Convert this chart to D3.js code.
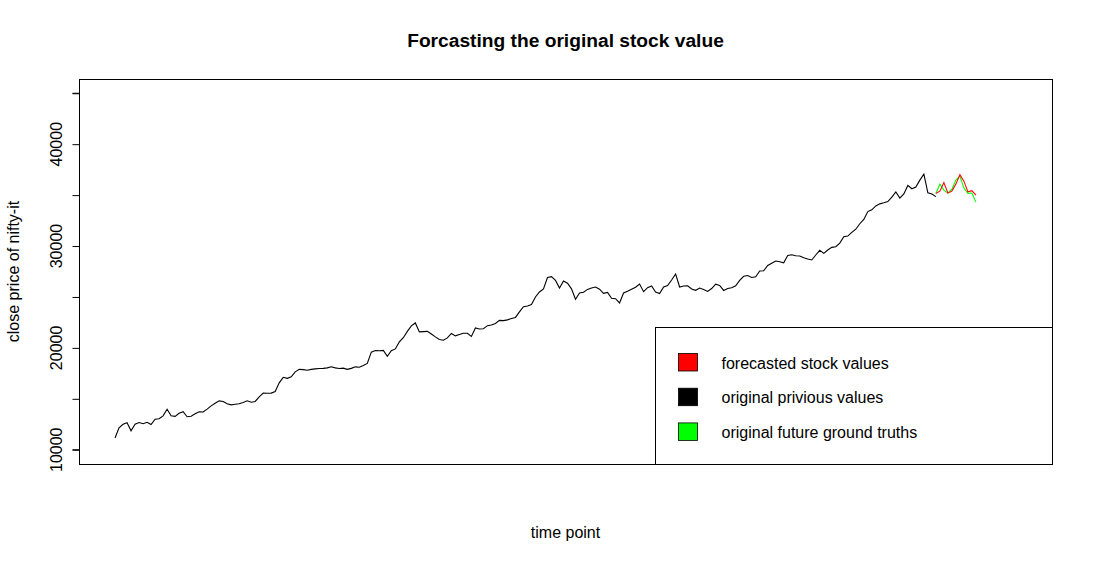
<!DOCTYPE html>
<html>
<head>
<meta charset="utf-8">
<script src="https://cdn.jsdelivr.net/npm/d3@7"></script>
<style>
  body { margin: 0; background: #fff; }
  svg { display: block; font-family: "Liberation Sans", Arial, sans-serif; }
</style>
</head>
<body>
<svg id="chart" width="1093" height="563"></svg>
<script>
"use strict";
// original previous close values (one per time point)
const closePrev = [
  11150,12160,12500,12650,11860,12500,12670,12550,12700,12470,
  12990,13040,13330,13970,13330,13280,13580,13730,13240,13280,
  13530,13730,13700,13990,14310,14560,14800,14740,14510,14410,
  14460,14510,14640,14800,14660,14740,15200,15560,15540,15560,
  15710,16570,17110,17010,17160,17650,17890,17870,17810,17890,
  17940,17970,17990,18040,18140,18040,17970,18010,17890,17990,
  18140,18100,18280,18480,19580,19740,19720,19750,19170,19730,
  19900,20590,21000,21620,22160,22450,21570,21600,21620,21370,
  21080,20830,20750,20980,21420,21180,21320,21440,21440,21130,
  21960,21860,21880,22180,22250,22400,22700,22680,22750,22890,
  22990,23530,24050,24120,24260,25000,25490,25780,26910,26990,
  26620,25880,26570,26350,25800,24780,25390,25460,25740,25880,
  25980,25760,25360,25440,24870,24830,24410,25390,25560,25760,
  25960,26270,25520,25910,26080,25490,25340,25980,26130,26670,
  27250,25980,26080,26100,25780,25650,25880,25740,25540,25830,
  26250,26130,25640,25830,25910,26100,26620,27030,27100,26910,
  26980,27550,27570,28090,28310,28530,28460,28350,29080,29140,
  29050,29020,28840,28730,28630,29120,29580,29280,29610,29870,
  29930,30290,30910,30980,31340,31650,32190,32610,33380,33560,
  33940,34140,34250,34370,34800,35320,34710,35120,35950,35620,
  35790,36470,37060,35220,35100,34850
];
const forecastStart = 205;
const forecasted = [35170,35390,36230,35200,35390,36080,37010,36370,35320,35440,35000];
const groundTruth = [35150,36080,35490,35200,35590,36470,36860,35690,35170,35200,34310];

const xLimits = [0, 225];
const yLimits = [10000, 45000];
const yTicks = [10000,15000,20000,25000,30000,35000,40000,45000];
const yTickLabels = [10000,20000,30000,40000];

const legendLabels = ["forecasted stock values", "original privious values", "original future ground truths"];
const legendColors = ["#ff0000", "#000000", "#00ff00"];

const titleText = "Forcasting the original stock value";
const xTitle = "time point";
const yTitle = "close price of nifty-it";

const margin = { top: 79, right: 41, bottom: 99, left: 79 };
const svg = d3.select("#chart");
const W = +svg.attr("width"), H = +svg.attr("height");
const plotW = W - margin.left - margin.right;
const plotH = H - margin.top - margin.bottom;

// R style 4% axis extension
const pad = (lim) => { const d = (lim[1] - lim[0]) * 0.04; return [lim[0] - d, lim[1] + d]; };

const x = d3.scaleLinear().domain(pad(xLimits)).range([0, plotW]);
const y = d3.scaleLinear().domain(pad(yLimits)).range([plotH, 0]);

const g = svg.append("g").attr("transform", `translate(${margin.left},${margin.top})`);

const line = d3.line().x(d => x(d.t)).y(d => y(d.v));

const prevData = closePrev.map((v, i) => ({ t: i, v: v }));
const truthData = groundTruth.map((v, i) => ({ t: forecastStart + i, v: v }));
const fcData = forecasted.map((v, i) => ({ t: forecastStart + i, v: v }));

g.append("path").datum(prevData).attr("d", line)
  .attr("fill", "none").attr("stroke", legendColors[1]).attr("stroke-width", 1.1);
g.append("path").datum(truthData).attr("d", line)
  .attr("fill", "none").attr("stroke", legendColors[2]).attr("stroke-width", 1.1);
g.append("path").datum(fcData).attr("d", line)
  .attr("fill", "none").attr("stroke", legendColors[0]).attr("stroke-width", 1.1);

// plot frame
g.append("rect")
  .attr("x", 0.5).attr("y", 0.5)
  .attr("width", plotW).attr("height", plotH)
  .attr("fill", "none").attr("stroke", "#000");

// y axis
const yAxis = d3.axisLeft(y).tickValues(yTicks).tickSize(7).tickFormat("");
const ya = g.append("g").attr("transform", "translate(0.5,0)").call(yAxis);
ya.select(".domain").attr("d", `M-7,${y(yTicks[0])}H0V${y(yTicks[yTicks.length - 1])}H-7`).attr("stroke", "#000");
ya.selectAll(".tick line").attr("stroke", "#000");

g.selectAll(".ylab").data(yTickLabels).enter().append("text")
  .attr("class", "ylab")
  .attr("transform", d => `translate(-17,${y(d)}) rotate(-90)`)
  .attr("text-anchor", "middle")
  .attr("font-size", 16)
  .text(d => d);

// titles
svg.append("text")
  .attr("x", margin.left + plotW / 2).attr("y", 47)
  .attr("text-anchor", "middle").attr("font-size", 19.2).attr("font-weight", "bold")
  .text(titleText);
svg.append("text")
  .attr("x", margin.left + plotW / 2).attr("y", 538)
  .attr("text-anchor", "middle").attr("font-size", 16)
  .text(xTitle);
svg.append("text")
  .attr("transform", `translate(19,${margin.top + plotH / 2}) rotate(-90)`)
  .attr("text-anchor", "middle").attr("font-size", 16)
  .text(yTitle);

// legend (bottom right)
const legW = 397, legH = 137;
const leg = g.append("g").attr("transform", `translate(${plotW - legW + 0.5},${plotH - legH + 0.5})`);
leg.append("rect").attr("width", legW).attr("height", legH)
  .attr("fill", "#fff").attr("stroke", "#000");
const item = leg.selectAll(".item").data(legendLabels).enter().append("g")
  .attr("transform", (d, i) => `translate(0,${35 + i * 34.7})`);
item.append("rect")
  .attr("x", 23).attr("y", -9).attr("width", 19).attr("height", 17.5)
  .attr("fill", (d, i) => legendColors[i]).attr("stroke", "#000").attr("stroke-width", 0.8);
item.append("text")
  .attr("x", 66).attr("y", 6).attr("font-size", 16)
  .text(d => d);
</script>
</body>
</html>
